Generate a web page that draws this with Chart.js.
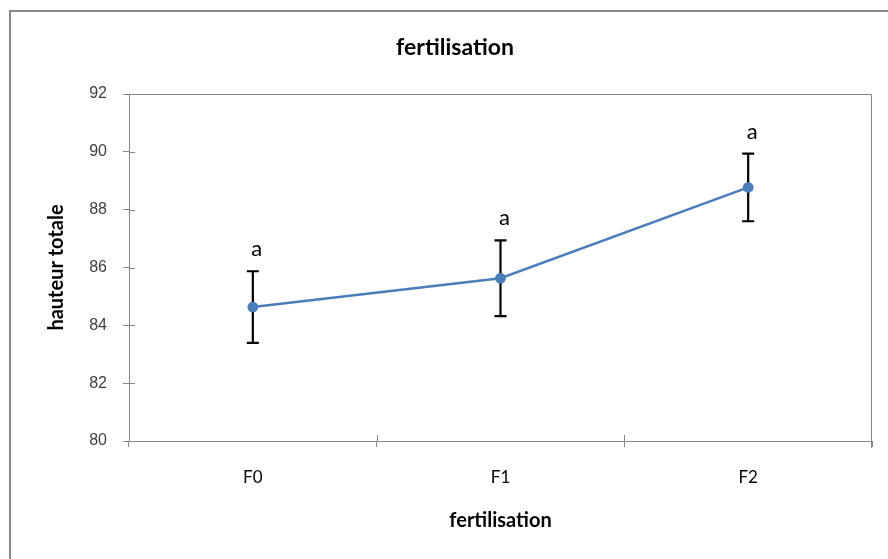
<!DOCTYPE html>
<html>
<head>
<meta charset="utf-8">
<script src="https://cdn.jsdelivr.net/npm/chart.js@4.4.1/dist/chart.umd.min.js"></script>
<style>
  html, body { margin: 0; padding: 0; background: #fff; }
  #wrap { width: 888px; height: 559px; }
</style>
</head>
<body>
<div id="wrap"><canvas id="chart" width="888" height="559"></canvas></div>
<script>
// Données
const categories = ["F0", "F1", "F2"];
const moyennes = [84.63, 85.63, 88.77];
const erreurs = [1.24, 1.31, 1.17];
const lettres = ["a", "a", "a"];
const yTicks = [80, 82, 84, 86, 88, 90, 92];

const axisGrey = "#868686";

// cadre extérieur + cadre de la zone de tracé + graduations croisées
const cadrePlugin = {
    id: "cadre",
    beforeDraw(chart) {
        const ctx = chart.ctx;
        ctx.save();
        ctx.fillStyle = "#fff";
        ctx.fillRect(0, 0, chart.width, chart.height);
        ctx.strokeStyle = "#898989";
        ctx.lineWidth = 2;
        ctx.strokeRect(10, 11, chart.width + 20, chart.height + 20);
        ctx.restore();
    },
    afterDraw(chart) {
        const ctx = chart.ctx;
        const a = chart.chartArea;
        const x = chart.scales.x;
        const y = chart.scales.y;
        ctx.save();
        ctx.strokeStyle = axisGrey;
        ctx.lineWidth = 1;
        ctx.beginPath();
        ctx.moveTo(a.left, a.top + 0.5);
        ctx.lineTo(a.right - 0.5, a.top + 0.5);
        ctx.lineTo(a.right - 0.5, a.bottom + 7);
        // partie intérieure des graduations
        yTicks.forEach(v => {
            const py = Math.round(y.getPixelForValue(v)) + 0.5;
            ctx.moveTo(a.left, py);
            ctx.lineTo(a.left + 6, py);
        });
        for (let i = 1; i < categories.length; i++) {
            const px = Math.round((x.getPixelForValue(i - 1) + x.getPixelForValue(i)) / 2) + 0.5;
            ctx.moveTo(px, a.bottom);
            ctx.lineTo(px, a.bottom - 6);
        }
        ctx.stroke();
        ctx.restore();
    }
};

// barres d'erreur et lettres de significativité
const erreurPlugin = {
    id: "erreurs",
    afterDatasetsDraw(chart) {
        const ctx = chart.ctx;
        const meta = chart.getDatasetMeta(0);
        const y = chart.scales.y;
        ctx.save();
        meta.data.forEach((pt, i) => {
            const px = pt.x;
            const top = y.getPixelForValue(moyennes[i] + erreurs[i]);
            const bot = y.getPixelForValue(moyennes[i] - erreurs[i]);
            ctx.strokeStyle = "#000";
            ctx.lineWidth = 2.2;
            ctx.beginPath();
            ctx.moveTo(px, top);
            ctx.lineTo(px, bot);
            ctx.moveTo(px - 6, top);
            ctx.lineTo(px + 6, top);
            ctx.moveTo(px - 6, bot);
            ctx.lineTo(px + 6, bot);
            ctx.stroke();

            ctx.fillStyle = "#000";
            ctx.font = "22px Lato";
            ctx.textAlign = "center";
            ctx.textBaseline = "alphabetic";
            ctx.fillText(lettres[i], px + 4, top - 15);
        });
        // point par-dessus la barre
        meta.data.forEach(pt => pt.draw(ctx));
        ctx.restore();
    }
};

new Chart(document.getElementById("chart"), {
    type: "line",
    data: {
        labels: categories,
        datasets: [{
            label: "hauteur totale",
            data: moyennes,
            borderColor: "#4A7EBB",
            backgroundColor: "#4A7EBB",
            borderWidth: 2.5,
            pointRadius: 4,
            pointBackgroundColor: "#4A7EBB",
            pointBorderColor: "#4A7EBB",
            tension: 0
        }]
    },
    options: {
        responsive: false,
        animation: false,
        devicePixelRatio: 1,
        // marge gauche : le titre est centré sur le cadre Excel, plus large que la fenêtre
        layout: { padding: { left: 38, top: 0, right: 16, bottom: 0 } },
        plugins: {
            legend: { display: false },
            tooltip: { enabled: false },
            title: {
                display: true,
                text: "fertilisation",
                color: "#000",
                font: { family: "Lato", size: 23, weight: "bold" },
                padding: { top: 34.2, bottom: 32.2 }
            }
        },
        scales: {
            x: {
                offset: true,
                afterFit(scale) { scale.height = 118; },
                grid: {
                    offset: true,
                    drawOnChartArea: false,
                    tickLength: 6,
                    color: axisGrey
                },
                border: { color: axisGrey, width: 1 },
                ticks: {
                    color: "#000",
                    padding: 20,
                    font: { family: "Lato", size: 17 }
                },
                title: {
                    display: true,
                    text: "fertilisation",
                    color: "#000",
                    font: { family: "Lato", size: 20, weight: "bold" },
                    padding: { top: 0, bottom: 26 }
                }
            },
            y: {
                min: 80,
                max: 92,
                afterFit(scale) { scale.width = 91; },
                afterBuildTicks(scale) { scale.ticks = yTicks.map(v => ({ value: v })); },
                grid: {
                    drawOnChartArea: false,
                    tickLength: 6,
                    color: axisGrey
                },
                border: { color: axisGrey, width: 1 },
                ticks: {
                    color: "#404040",
                    padding: 16,
                    font: { family: "Liberation Sans", size: 16 }
                },
                title: {
                    display: true,
                    text: "hauteur totale",
                    color: "#000",
                    font: { family: "Lato", size: 20, weight: "bold" },
                    padding: { top: 6.6, bottom: 0 }
                }
            }
        }
    },
    plugins: [cadrePlugin, erreurPlugin]
});
</script>
</body>
</html>
